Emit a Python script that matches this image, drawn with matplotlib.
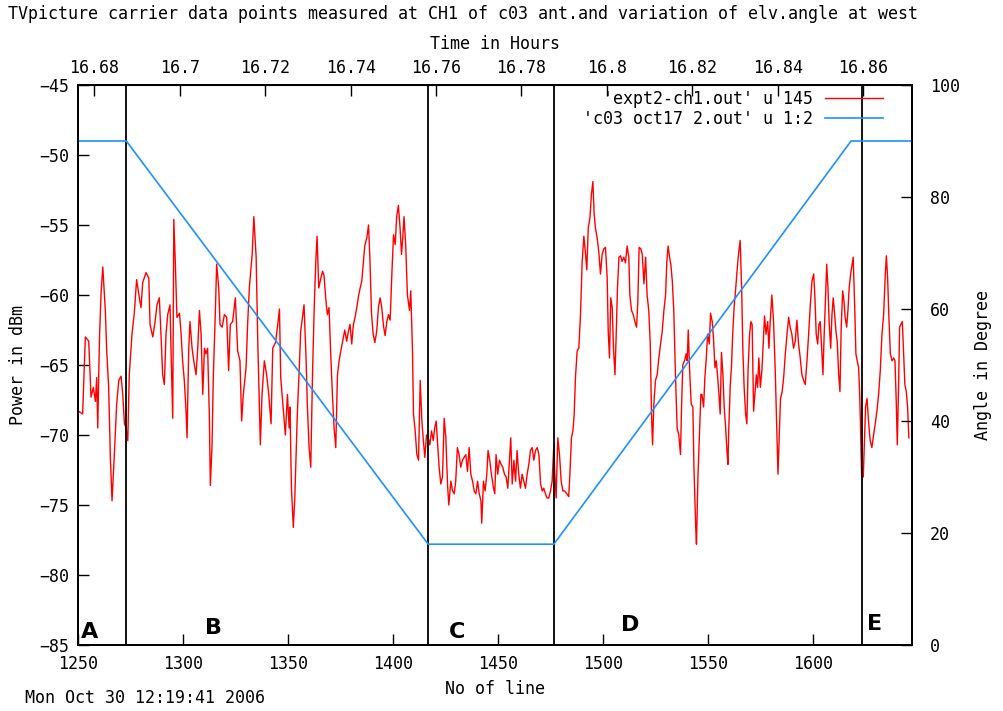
import numpy as np
import matplotlib
matplotlib.use("Agg")
from matplotlib import pyplot as plt

# red trace: 'expt2-ch1.out' u 145  (line no, power in dBm), read off in 4 chunks
line_1 = [1250.3, 1252.2, 1253.5, 1255.1, 1256.2, 1257.3, 1258.3, 1258.9, 1259.4, 1260.2,
          1261.0, 1261.8, 1263.0, 1263.7, 1264.6, 1265.4, 1266.2, 1267.3, 1268.4, 1269.4,
          1270.5, 1271.3, 1272.1, 1272.9, 1273.7, 1274.4, 1275.7, 1276.8, 1277.9, 1279.2,
          1280.0, 1280.8, 1282.4, 1283.7, 1284.3, 1285.6, 1286.7, 1287.6, 1288.7, 1289.5,
          1290.3, 1291.1, 1291.9, 1292.7, 1293.8, 1294.4, 1295.1, 1295.6, 1296.3, 1297.1,
          1298.3, 1299.0, 1299.8, 1300.6, 1301.4, 1301.9, 1302.7, 1303.3, 1304.3, 1305.1,
          1306.2, 1307.0, 1307.8, 1308.6, 1309.4, 1310.2, 1310.9, 1311.7, 1312.5, 1313.0,
          1313.8, 1314.4, 1315.4, 1316.0, 1317.0, 1317.6, 1318.6, 1319.7, 1320.8, 1321.7,
          1322.5, 1323.6, 1324.9, 1326.0, 1327.1, 1327.9, 1328.7, 1330.0, 1330.8, 1331.6,
          1332.9, 1333.7, 1334.8, 1335.6, 1336.3, 1336.8, 1337.6, 1338.7, 1339.8, 1340.8,
          1341.9, 1342.7, 1344.0, 1345.1, 1345.9, 1346.5, 1347.5, 1348.7]
power_1 = [-68.3, -68.5, -63.0, -63.3, -67.3, -66.6, -67.6, -65.9, -69.5, -63.2,
           -59.8, -58.0, -61.1, -64.1, -66.6, -71.6, -74.7, -71.4, -67.8, -66.1,
           -65.8, -67.1, -69.2, -69.5, -70.4, -65.7, -62.8, -61.3, -58.9, -60.2,
           -60.9, -59.1, -58.4, -58.8, -62.1, -63.0, -61.9, -60.7, -60.2, -62.8,
           -65.7, -66.4, -62.8, -61.4, -60.7, -64.7, -68.8, -54.6, -57.6, -61.6,
           -61.3, -62.6, -64.7, -66.1, -68.2, -70.2, -63.9, -61.9, -63.8, -64.7,
           -65.7, -63.8, -61.1, -62.8, -67.1, -63.8, -64.2, -63.8, -68.5, -73.6,
           -70.7, -65.9, -61.1, -57.8, -59.5, -62.1, -62.3, -61.4, -61.6, -65.4,
           -62.1, -61.9, -60.2, -64.0, -64.7, -69.0, -67.1, -65.2, -61.9, -59.4,
           -57.1, -54.4, -57.3, -63.5, -67.6, -70.7, -67.1, -64.7, -65.7, -67.1,
           -69.2, -63.8, -63.4, -62.1, -61.0, -65.9, -67.8, -70.0]

line_2 = [1349.7, 1350.5, 1350.9, 1351.6, 1352.5, 1353.2, 1353.8, 1354.4, 1355.2, 1356.0,
          1357.0, 1357.6, 1358.6, 1359.2, 1360.0, 1360.8, 1361.6, 1362.4, 1363.2, 1363.8,
          1364.6, 1365.6, 1366.4, 1367.1, 1367.9, 1368.7, 1369.5, 1370.3, 1371.1, 1371.9,
          1372.7, 1373.5, 1374.3, 1375.1, 1376.0, 1377.0, 1377.9, 1378.7, 1379.5, 1380.3,
          1381.1, 1381.9, 1382.7, 1383.5, 1384.3, 1385.1, 1385.9, 1386.5, 1387.5, 1388.3,
          1389.0, 1389.7, 1390.5, 1391.3, 1392.2, 1393.0, 1393.8, 1394.6, 1395.4, 1396.2,
          1397.0, 1397.8, 1398.6, 1399.4, 1400.2, 1401.0, 1401.7, 1402.5, 1403.3, 1404.0,
          1404.6, 1405.2, 1406.0, 1406.8, 1407.8, 1408.4, 1409.2, 1409.7, 1410.5, 1411.3,
          1412.1, 1412.9, 1413.7, 1414.4, 1415.1, 1415.9, 1416.7, 1417.5, 1418.3, 1419.1,
          1419.8, 1420.5, 1421.1, 1421.9, 1422.7, 1423.5, 1424.3, 1425.1, 1425.9, 1426.5,
          1427.5, 1428.3, 1429.1, 1429.8, 1430.6, 1431.4, 1432.2, 1433.0, 1433.8, 1434.6,
          1435.4, 1436.2, 1437.0, 1437.8, 1438.6, 1439.4, 1440.2, 1441.0, 1441.8, 1442.2,
          1443.0, 1443.8, 1444.6, 1445.2, 1446.0, 1446.8, 1447.8]
power_2 = [-67.1, -69.5, -68.0, -73.8, -76.6, -74.5, -71.6, -68.5, -65.7, -62.6,
           -61.4, -60.7, -64.7, -68.0, -70.9, -72.3, -65.9, -61.1, -57.6, -55.8,
           -59.5, -58.8, -58.3, -58.6, -60.2, -61.4, -60.9, -64.2, -67.1, -69.5,
           -70.9, -65.7, -64.7, -64.0, -63.3, -62.5, -63.3, -62.6, -62.1, -63.5,
           -62.1, -61.6, -60.9, -60.1, -59.5, -59.0, -57.6, -56.5, -55.9, -55.0,
           -57.6, -61.3, -62.8, -63.4, -62.6, -60.9, -60.2, -60.9, -62.2, -62.9,
           -61.9, -61.4, -61.8, -58.5, -55.7, -56.4, -54.4, -53.6, -55.2, -57.1,
           -55.9, -54.4, -56.5, -60.0, -61.1, -59.7, -63.8, -68.5, -69.7, -71.4,
           -71.8, -66.1, -69.0, -70.4, -71.6, -70.0, -70.2, -70.7, -69.7, -70.4,
           -69.5, -69.0, -70.4, -72.3, -73.5, -73.0, -68.8, -70.2, -73.5, -75.0,
           -73.3, -74.0, -74.2, -73.3, -70.9, -71.4, -72.3, -71.8, -71.6, -71.4,
           -72.6, -70.9, -72.8, -73.3, -74.0, -74.2, -73.3, -74.2, -74.7, -76.3,
           -73.3, -74.0, -72.8, -71.1, -71.8, -72.8, -73.8]

line_3 = [1448.4, 1449.0, 1449.8, 1450.6, 1451.4, 1452.2, 1453.0, 1453.8, 1454.6, 1455.4,
          1456.0, 1456.7, 1457.5, 1458.3, 1459.0, 1459.8, 1460.6, 1461.4, 1462.2, 1463.0,
          1463.8, 1464.6, 1465.4, 1466.2, 1467.0, 1467.8, 1468.6, 1469.4, 1470.2, 1471.0,
          1471.7, 1472.5, 1473.3, 1474.1, 1474.9, 1475.7, 1476.5, 1477.0, 1477.6, 1478.4,
          1479.2, 1480.0, 1480.8, 1481.7, 1482.7, 1483.6, 1484.3, 1484.9, 1485.6, 1486.2,
          1486.8, 1487.6, 1488.4, 1489.2, 1490.0, 1490.8, 1491.6, 1492.2, 1492.9, 1493.7,
          1494.4, 1495.1, 1495.7, 1496.3, 1497.1, 1497.9, 1498.7, 1499.5, 1500.3, 1501.1,
          1501.9, 1502.4, 1503.0, 1503.6, 1504.3, 1504.9, 1505.6, 1506.2, 1506.8, 1507.5,
          1508.3, 1509.0, 1509.8, 1510.6, 1511.4, 1512.2, 1512.7, 1513.5, 1514.3, 1515.1,
          1515.9, 1516.5, 1517.1, 1517.9, 1518.6, 1519.4, 1520.2, 1520.9, 1521.7, 1522.4,
          1523.0, 1523.5, 1524.1, 1524.9, 1525.7, 1526.5, 1527.3, 1528.1, 1528.9, 1529.7,
          1530.3, 1530.9, 1531.6, 1532.2, 1532.9, 1533.6, 1534.4, 1535.2, 1536.0, 1536.8,
          1537.3, 1537.9, 1538.7, 1539.5, 1540.0, 1540.5, 1541.1, 1541.9, 1542.7, 1543.2,
          1544.0, 1544.4, 1545.1, 1545.9, 1546.5]
power_3 = [-74.2, -71.4, -72.8, -71.8, -72.1, -72.3, -72.8, -73.0, -73.8, -71.8,
           -70.2, -73.5, -71.8, -73.3, -71.1, -72.8, -73.8, -72.8, -73.3, -73.8,
           -72.8, -72.1, -71.1, -70.9, -71.8, -71.1, -70.9, -71.4, -73.5, -74.0,
           -73.8, -74.2, -74.5, -74.5, -74.0, -73.3, -70.7, -72.8, -74.5, -70.2,
           -71.4, -73.3, -74.0, -74.0, -74.2, -74.4, -72.3, -70.2, -69.7, -68.5,
           -65.9, -64.0, -63.8, -61.4, -57.6, -55.8, -57.1, -58.2, -55.2, -54.5,
           -52.8, -51.9, -54.2, -55.2, -55.9, -56.9, -58.5, -57.1, -56.7, -56.6,
           -58.8, -62.6, -64.5, -60.2, -60.9, -63.8, -65.7, -62.8, -59.5, -57.3,
           -57.2, -57.6, -57.3, -57.7, -56.5, -57.3, -60.0, -61.1, -61.4, -61.9,
           -62.3, -60.4, -56.6, -56.7, -57.1, -59.2, -57.3, -60.0, -61.1, -63.5,
           -68.5, -70.7, -67.8, -66.1, -65.7, -64.5, -63.5, -62.6, -61.1, -60.0,
           -57.6, -56.5, -57.3, -57.8, -59.0, -61.1, -65.7, -69.5, -70.0, -71.4,
           -68.0, -65.0, -64.7, -64.2, -64.7, -62.5, -65.2, -67.8, -68.0, -72.3,
           -76.4, -77.8, -73.0, -69.5, -67.1]

line_4 = [1547.0, 1547.8, 1548.4, 1549.0, 1549.7, 1550.5, 1551.1, 1551.9, 1552.5, 1553.2,
          1553.8, 1554.4, 1555.1, 1555.7, 1556.3, 1557.0, 1557.6, 1558.3, 1558.9, 1559.4,
          1559.8, 1560.5, 1561.1, 1561.7, 1562.4, 1563.0, 1563.6, 1564.4, 1565.2, 1565.9,
          1566.5, 1567.1, 1567.8, 1568.4, 1569.0, 1569.7, 1570.3, 1570.9, 1571.6, 1572.2,
          1572.9, 1573.5, 1574.1, 1574.8, 1575.6, 1576.4, 1576.8, 1577.5, 1578.3, 1578.9,
          1579.5, 1580.3, 1581.1, 1581.9, 1582.7, 1583.2, 1583.8, 1584.4, 1585.2, 1585.9,
          1586.7, 1587.5, 1588.3, 1589.0, 1589.8, 1590.6, 1591.4, 1592.2, 1593.0, 1593.8,
          1594.6, 1595.4, 1596.2, 1597.0, 1597.8, 1598.6, 1599.4, 1600.2, 1600.8, 1601.4,
          1602.1, 1602.7, 1603.3, 1604.0, 1604.6, 1605.2, 1605.9, 1606.4, 1607.0, 1607.6,
          1608.3, 1608.9, 1609.5, 1610.2, 1610.8, 1611.4, 1612.1, 1612.7, 1613.3, 1614.0,
          1614.6, 1615.2, 1615.9, 1616.5, 1617.1, 1617.8, 1618.4, 1619.0, 1619.7, 1620.3,
          1620.9, 1621.6, 1622.1, 1622.4, 1623.0, 1623.8, 1624.3, 1624.9, 1625.6, 1626.3,
          1627.1, 1627.9, 1628.7, 1629.5, 1630.3, 1631.1, 1631.9, 1632.7, 1633.5, 1634.3,
          1634.8, 1635.4, 1636.0, 1636.7, 1637.5, 1638.3, 1638.9, 1639.5, 1640.0, 1640.6,
          1641.1, 1641.7, 1642.4, 1643.0, 1643.6, 1644.3, 1644.9, 1645.5]
power_4 = [-67.1, -68.0, -65.9, -64.7, -62.8, -63.5, -61.3, -61.9, -63.1, -65.2,
           -64.7, -65.7, -67.1, -68.5, -64.1, -65.7, -68.0, -69.5, -71.1, -72.1,
           -69.5, -66.4, -65.0, -62.6, -60.7, -59.7, -58.5, -57.1, -56.1, -59.5,
           -64.0, -66.6, -68.5, -69.2, -65.2, -62.8, -61.9, -62.1, -68.3, -67.1,
           -65.7, -66.6, -64.5, -66.6, -65.3, -62.8, -61.5, -62.8, -61.9, -63.8,
           -61.9, -60.0, -61.9, -65.4, -70.0, -72.8, -70.0, -67.4, -66.9, -65.9,
           -64.2, -62.8, -61.6, -62.3, -62.8, -63.8, -63.3, -61.8, -63.5, -64.5,
           -65.7, -66.1, -66.4, -64.7, -62.8, -60.7, -59.0, -58.5, -60.2, -62.8,
           -63.5, -62.1, -61.9, -63.8, -65.7, -62.8, -59.8, -57.8, -59.5, -62.1,
           -63.8, -61.4, -60.2, -61.4, -62.6, -63.3, -65.7, -66.9, -62.3, -59.7,
           -60.4, -61.6, -62.3, -61.1, -59.5, -58.5, -57.9, -57.3, -60.7, -64.2,
           -64.7, -65.2, -67.1, -68.8, -72.8, -73.0, -70.7, -68.0, -67.4, -69.0,
           -70.4, -70.9, -70.0, -69.2, -68.3, -67.1, -65.4, -62.8, -61.4, -58.5,
           -57.2, -58.8, -61.6, -64.2, -64.7, -64.5, -64.7, -67.6, -70.7, -66.6,
           -62.3, -62.1, -61.9, -64.2, -66.4, -66.9, -68.0, -70.2]

# blue trace: 'c03 oct17 2.out' u 1:2 (elevation angle, degrees)
angle_line = [1250, 1273, 1416.7, 1476.5, 1618, 1647]
angle_deg = [90, 90, 18, 18, 90, 90]

# section boundaries and labels
bounds = [1273, 1416.7, 1476.5, 1623]
sec_names = ["A", "B", "C", "D", "E"]
sec_x = [1255.7, 1314.3, 1430.5, 1512.9, 1629.0]
sec_y = [-84.1, -83.8, -84.1, -83.6, -83.5]

x_lo, x_hi = 1250, 1647
hr_lo, hr_hi = 16.6762, 16.8714
hour_ticks = [16.68, 16.70, 16.72, 16.74, 16.76, 16.78, 16.80, 16.82, 16.84, 16.86]
hour_labels = ["16.68", "16.7", "16.72", "16.74", "16.76", "16.78", "16.8", "16.82", "16.84", "16.86"]

mono = "DejaVu Sans Mono"
fs = 12
plt.rcParams["font.family"] = mono
plt.rcParams["font.size"] = fs

W, H = 1004, 711
fig = plt.figure(figsize=(W / 100, H / 100), dpi=100)
L, R, T, B = 78, 912, 85, 645
ax = fig.add_axes([L / W, 1 - B / H, (R - L) / W, (B - T) / H])

lines_all = line_1 + line_2 + line_3 + line_4
power_all = power_1 + power_2 + power_3 + power_4
red, = ax.plot(lines_all, power_all, color="#ff0000", lw=1.0, label="'expt2-ch1.out' u 145")
ax.set_xlim(x_lo, x_hi)
ax.set_ylim(-85, -45)
ax.set_xticks(range(1250, 1601, 50))
ax.set_yticks(range(-85, -44, 5))
ax.tick_params(axis="x", direction="in", length=8, width=1, top=False, pad=7)
ax.tick_params(axis="y", direction="in", length=8, width=1, right=False, pad=6)
ax.set_xlabel("No of line", labelpad=5)
ax.set_ylabel("Power in dBm", labelpad=9)

for b in bounds:
    ax.axvline(b, color="black", lw=1.3)
for name, sx, sy in zip(sec_names, sec_x, sec_y):
    ax.text(sx, sy, name, fontsize=16, fontweight="bold", family="DejaVu Sans",
            ha="center", va="center")

ax2 = ax.twinx()
blue, = ax2.plot(angle_line, angle_deg, color="#1e90ff", lw=1.2, label="'c03 oct17 2.out' u 1:2")
ax2.set_ylim(0, 100)
ax2.set_yticks(range(0, 101, 20))
ax2.tick_params(direction="in", length=8, width=1, pad=13)
ax2.set_ylabel("Angle in Degree", labelpad=10)

k = (hr_hi - hr_lo) / (x_hi - x_lo)
top = ax.secondary_xaxis("top", functions=(lambda v: hr_lo + (v - x_lo) * k,
                                           lambda h: x_lo + (h - hr_lo) / k))
top.set_xticks(hour_ticks)
top.set_xticklabels(hour_labels)
top.tick_params(direction="in", length=8, width=1, pad=6)
top.set_xlabel("Time in Hours", labelpad=7)

for a in (ax, ax2):
    for s in a.spines.values():
        s.set_linewidth(1.3)

leg = ax2.legend([red, blue], [red.get_label(), blue.get_label()], loc="upper right",
                 bbox_to_anchor=(1 - 22 / (R - L), 1 + 2 / (B - T)),
                 frameon=False, markerfirst=False, handlelength=3.5, fontsize=fs,
                 borderaxespad=0.0, labelspacing=0.15, handletextpad=0.7)
for t in leg.get_texts():
    t.set_ha("right")

fig.text(8 / W, 1 - 14 / H, "TVpicture carrier data points measured at CH1 of c03 ant.and variation of elv.angle at west",
         ha="left", va="center", fontsize=fs)
fig.text(25 / W, 1 - 698 / H, "Mon Oct 30 12:19:41 2006", ha="left", va="center", fontsize=fs)

fig.savefig("out.png", dpi=100)
